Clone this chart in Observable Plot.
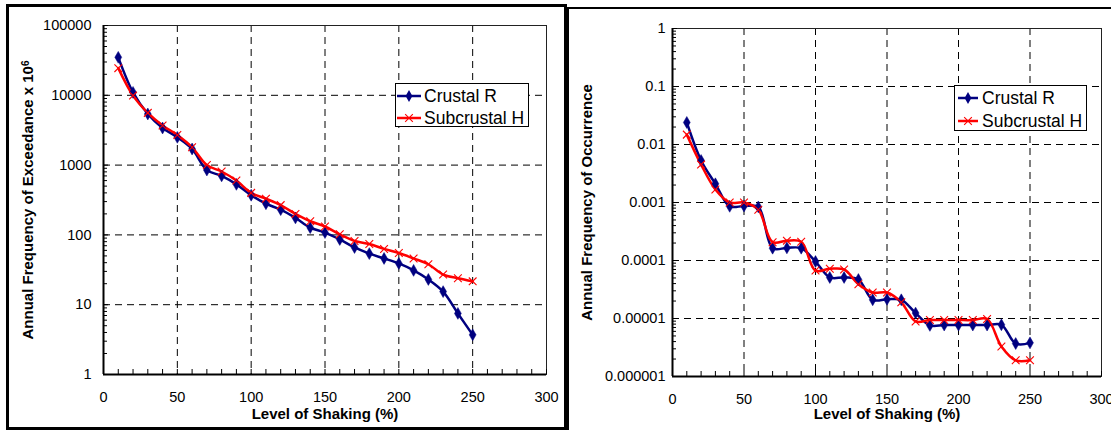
<!DOCTYPE html>
<html>
<head>
<meta charset="utf-8">
<script src="https://cdn.jsdelivr.net/npm/d3@7"></script>
<script src="https://cdn.jsdelivr.net/npm/@observablehq/plot@0.6"></script>
<style>
  html, body { margin: 0; padding: 0; background: #fff; }
  body { font-family: "Liberation Sans", Arial, sans-serif; }
  #wrap { position: relative; width: 1111px; height: 430px; overflow: hidden; background: #fff; }
  .panel-svg { position: absolute; top: 0; }
  .border { position: absolute; box-sizing: border-box; pointer-events: none; }
  .legend { position: absolute; box-sizing: border-box; border: 1px solid #000; background: #fff; }
  .legend .row { position: absolute; left: 0; height: 22px; white-space: nowrap; }
  .legend .row svg { position: absolute; left: 0; top: 0; }
  .legend .row span { position: absolute; top: 0; line-height: 22px; color: #000; }
</style>
</head>
<body>
<div id="wrap"></div>
<script>
// ---------- data ----------
const levels = [10, 20, 30, 40, 50, 60, 70, 80, 90, 100, 110, 120, 130,
                140, 150, 160, 170, 180, 190, 200, 210, 220, 230, 240, 250];

// Left chart: Annual Frequency of Exceedance x 10^6
const exceedCrustal = [35000, 11000, 5400, 3400, 2500, 1700, 850, 700, 530, 370, 280, 230, 175,
                       127, 108, 86, 66, 54, 46, 39, 31, 23, 15.4, 7.5, 3.7];
const exceedSubcrustal = [24500, 9900, 5600, 3700, 2700, 1800, 1000, 810, 600, 400, 330, 267, 200,
                          157, 132, 102, 82, 74, 63, 55, 46, 38, 27, 24, 21.6];

// Right chart: Annual Frequency of Occurrence
const occurCrustal = [0.024, 0.0053, 0.0021, 0.00086, 0.00087, 0.00084, 0.000163, 0.000165, 0.000163,
                      0.000096, 0.000051, 0.000051, 0.000047, 0.000021, 0.0000214, 0.000021, 0.0000124,
                      0.0000076, 0.0000077, 0.0000077, 0.0000077, 0.0000077, 0.0000078, 0.0000037, 0.0000038];
const occurSubcrustal = [0.0148, 0.0045, 0.00168, 0.001, 0.001, 0.00075, 0.000207, 0.00022, 0.00021,
                         0.000067, 0.000072, 0.00007, 0.000039, 0.000028, 0.000028, 0.000019, 0.0000089,
                         0.0000094, 0.0000094, 0.0000094, 0.0000094, 0.0000098, 0.0000033, 0.0000019, 0.0000019];

const seriesNames = ["Crustal R", "Subcrustal H"];
const seriesColors = ["#000080", "#ff0000"];
const seriesSymbols = ["diamond", "times"];

const xTickValues = [0, 50, 100, 150, 200, 250, 300];
const xTickLabels = ["0", "50", "100", "150", "200", "250", "300"];
const exceedTickValues = [1, 10, 100, 1000, 10000, 100000];
const exceedTickLabels = ["1", "10", "100", "1000", "10000", "100000"];
const occurTickValues = [0.000001, 0.00001, 0.0001, 0.001, 0.01, 0.1, 1];
const occurTickLabels = ["0.000001", "0.00001", "0.0001", "0.001", "0.01", "0.1", "1"];

const xTitle = "Level of Shaking (%)";
const exceedTitle = "Annual Frequency of Exceedance x 10";
const exceedTitleSup = "6";
const occurTitle = "Annual Frequency of Occurrence";

// ---------- drawing ----------
const FONT = "'Liberation Sans', Arial, sans-serif";
const wrap = document.getElementById("wrap");

function buildRows(values) {
  return levels.map((level, i) => ({level, value: values[i]}));
}

function panel(cfg) {
  const {width, height, mt, mr, mb, ml, yDomain, yTicks, yLabels, seriesValues,
         yTitle, yTitleDx, xTitleDy, yTickPadding, left} = cfg;
  const innerW = width - ml - mr;
  const innerH = height - mt - mb;
  const xMinor = d3.range(0, 301, 10);
  const yMinor = [];
  yTicks.slice(0, -1).forEach(d => { for (let k = 2; k <= 9; k++) yMinor.push(d * k); });
  const xGrid = xTickValues.slice(1, -1);
  const yGrid = yTicks.slice(1, -1);

  const marks = [
    Plot.ruleX(xGrid, {x: d => d, stroke: "#000", strokeWidth: 1, strokeDasharray: "7,5"}),
    Plot.ruleY(yGrid, {y: d => d, stroke: "#000", strokeWidth: 1, strokeDasharray: "7,5"}),
    Plot.frame({stroke: "#222", strokeWidth: 1}),
    Plot.ruleX(xMinor, {x: d => d, stroke: "#000", strokeWidth: 1, insetTop: innerH - 5}),
    Plot.ruleY(yMinor, {y: d => d, stroke: "#000", strokeWidth: 1, insetRight: innerW - 4}),
    Plot.ruleY(yTicks, {y: d => d, stroke: "#000", strokeWidth: 1, insetRight: innerW - 5}),
    Plot.axisX(xTickValues, {tickSize: 0, tickPadding: 17, label: null, fontSize: 14.5,
      tickFormat: d => xTickLabels[xTickValues.indexOf(d)]}),
    Plot.axisY(yTicks, {tickSize: 0, tickPadding: yTickPadding, label: null, fontSize: 14.5,
      tickFormat: d => yLabels[yTicks.indexOf(d)]}),
    Plot.ruleX([0], {x: d => d, stroke: "#000", strokeWidth: 2}),
    Plot.ruleY([yDomain[0]], {y: d => d, stroke: "#000", strokeWidth: 2}),
    Plot.text([xTitle], {text: d => d, frameAnchor: "bottom", dy: xTitleDy,
      textAnchor: "middle", lineAnchor: "middle",
      fontWeight: "bold", fontSize: 15, fill: "#000"}),
    Plot.text([yTitle], {text: d => d, frameAnchor: "left", dx: yTitleDx, rotate: -90,
      textAnchor: "middle", lineAnchor: "middle",
      fontWeight: "bold", fontSize: 15, fill: "#000"})
  ];
  seriesValues.forEach((vals, s) => {
    const rows = buildRows(vals);
    marks.push(Plot.line(rows, {x: "level", y: "value", stroke: seriesColors[s],
      strokeWidth: 2.5, curve: "catmull-rom"}));
  });
  seriesValues.forEach((vals, s) => {
    const rows = buildRows(vals);
    if (seriesSymbols[s] === "diamond") {
      marks.push(Plot.dot(rows, {x: "level", y: "value", symbol: "diamond", r: 3.6,
        fill: seriesColors[s], stroke: seriesColors[s], strokeWidth: 0.5}));
    } else {
      marks.push(Plot.dot(rows, {x: "level", y: "value", symbol: "times", r: 3.6,
        stroke: seriesColors[s], strokeWidth: 1.1, fill: "none"}));
    }
  });

  const svg = Plot.plot({
    width, height,
    marginTop: mt, marginRight: mr, marginBottom: mb, marginLeft: ml,
    style: {fontFamily: FONT, fontSize: "14.5px", background: "transparent", color: "#000", overflow: "visible"},
    x: {type: "linear", domain: [0, 300], label: null},
    y: {type: "log", domain: yDomain, label: null},
    marks
  });
  svg.classList.add("panel-svg");
  svg.style.left = left + "px";
  svg.style.position = "absolute";
  svg.style.top = "0px";
  return svg;
}

const leftSvg = panel({
  width: 565, height: 430, mt: 25, mr: 19, mb: 56, ml: 103,
  yDomain: [1, 100000], yTicks: exceedTickValues, yLabels: exceedTickLabels,
  seriesValues: [exceedCrustal, exceedSubcrustal],
  yTitle: exceedTitle, yTitleDx: -75, xTitleDy: 40, yTickPadding: 12, left: 0
});
wrap.appendChild(leftSvg);
// superscript on the left y title
d3.select(leftSvg).selectAll("text")
  .filter(function() { return this.textContent === exceedTitle; })
  .append("tspan").attr("dy", "-0.45em").attr("font-size", "10px").text(exceedTitleSup);

const rightSvg = panel({
  width: 546, height: 430, mt: 28, mr: 10, mb: 54, ml: 107,
  yDomain: [0.000001, 1], yTicks: occurTickValues, yLabels: occurTickLabels,
  seriesValues: [occurCrustal, occurSubcrustal],
  yTitle: occurTitle, yTitleDx: -85, xTitleDy: 38, yTickPadding: 7, left: 565
});
wrap.appendChild(rightSvg);

// panel borders
function addBorder(style) {
  const d = document.createElement("div");
  d.className = "border";
  Object.assign(d.style, style);
  wrap.appendChild(d);
}
addBorder({left: "6px", top: "4px", width: "561px", height: "426px", border: "3px solid #000"});
addBorder({left: "565px", top: "7px", width: "560px", height: "430px", borderTop: "2px solid #000", borderLeft: "4px solid #000"});

// legends
function legend(left, top, w, h, rowCenters, lineX0, lineX1, textX, fontSize) {
  const box = document.createElement("div");
  box.className = "legend";
  Object.assign(box.style, {left: left + "px", top: top + "px", width: w + "px", height: h + "px"});
  seriesNames.forEach((name, s) => {
    const row = document.createElement("div");
    row.className = "row";
    row.style.top = (rowCenters[s] - 11) + "px";
    row.style.width = (w - 2) + "px";
    const svg = d3.create("svg").attr("width", textX).attr("height", 22);
    svg.append("line").attr("x1", lineX0).attr("x2", lineX1).attr("y1", 11).attr("y2", 11)
      .attr("stroke", seriesColors[s]).attr("stroke-width", 2.5);
    const cx = (lineX0 + lineX1) / 2;
    if (seriesSymbols[s] === "diamond") {
      svg.append("path").attr("d", d3.symbol(d3.symbolDiamond, 40)())
        .attr("transform", `translate(${cx},11)`).attr("fill", seriesColors[s]);
    } else {
      svg.append("path").attr("d", d3.symbol(d3.symbolTimes, 40)())
        .attr("transform", `translate(${cx},11)`).attr("fill", "none")
        .attr("stroke", seriesColors[s]).attr("stroke-width", 1.1);
    }
    row.appendChild(svg.node());
    const span = document.createElement("span");
    span.textContent = name;
    span.style.left = textX + "px";
    span.style.fontSize = fontSize + "px";
    span.style.fontFamily = FONT;
    row.appendChild(span);
    box.appendChild(row);
  });
  wrap.appendChild(box);
}
legend(395, 83, 134, 44, [12, 34], 1, 25, 28, 17.5);
legend(954, 85, 133, 46, [12, 35], 3, 23, 27, 17.5);
</script>
</body>
</html>
